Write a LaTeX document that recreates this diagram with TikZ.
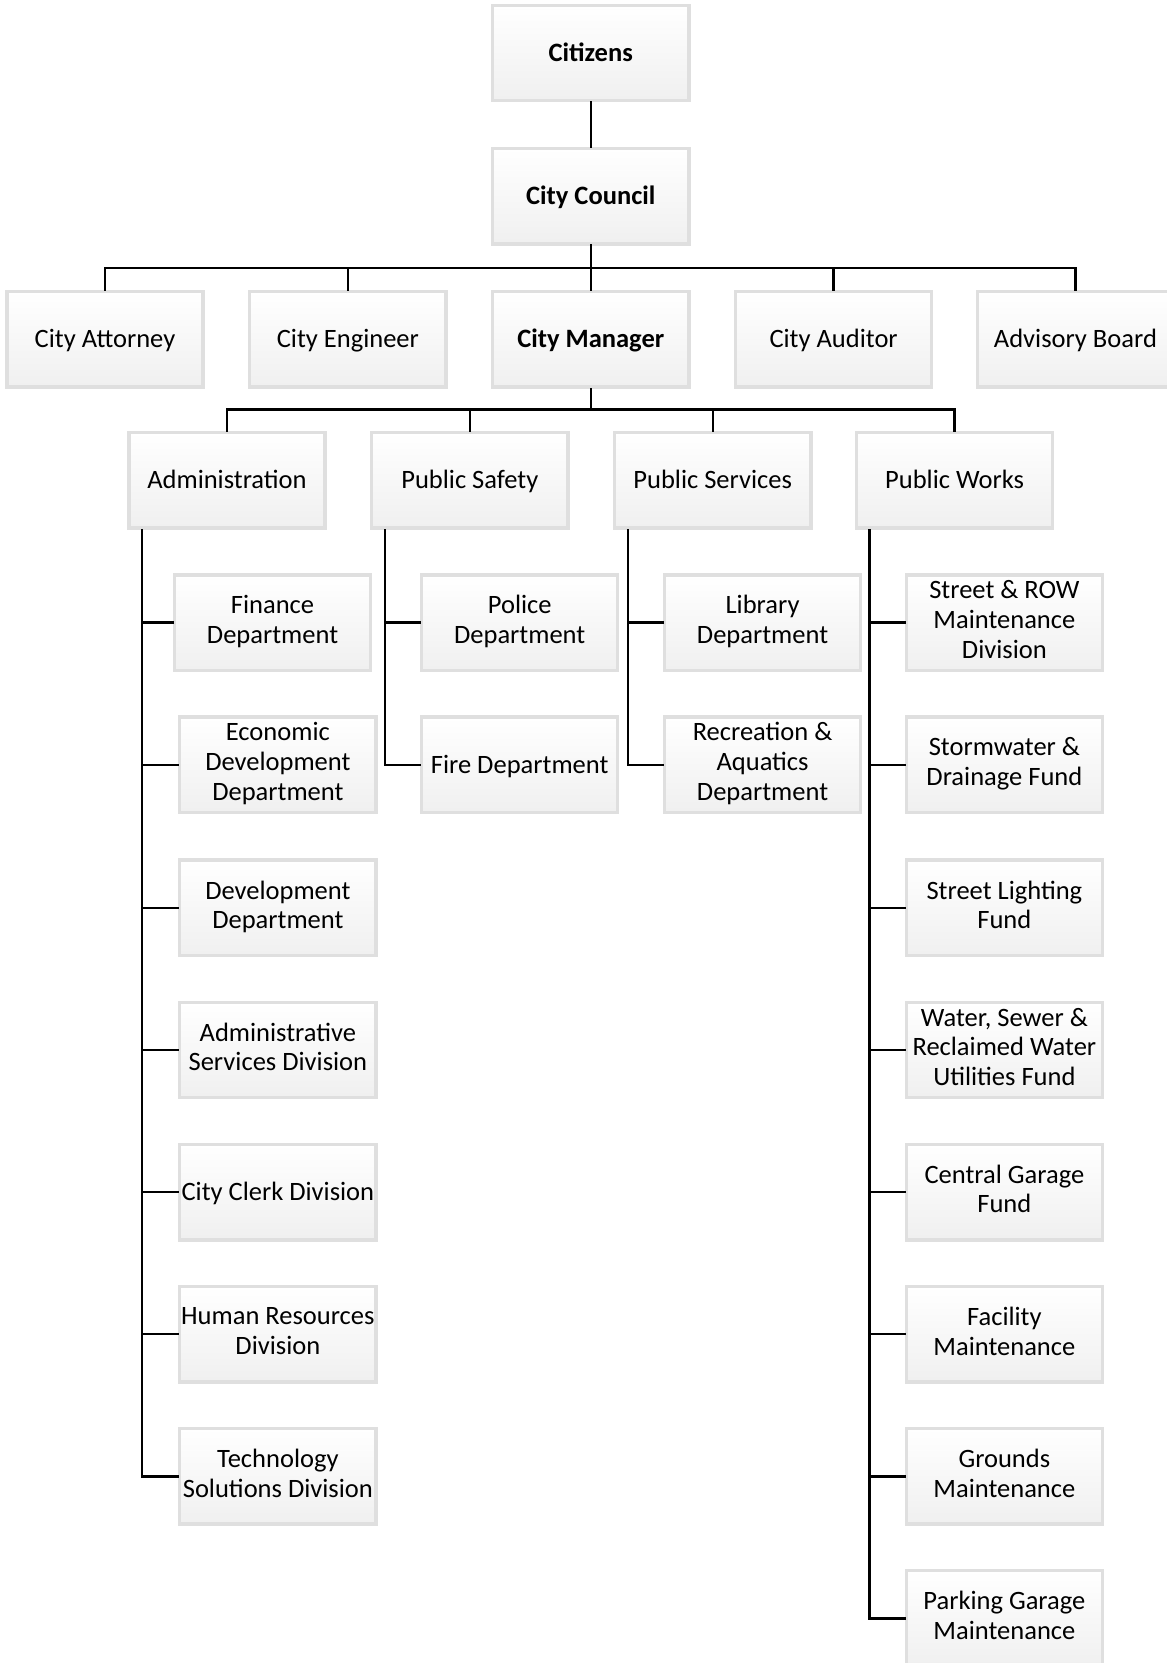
\documentclass[tikz,border=0pt]{standalone}
\usepackage{fontspec}
\setmainfont{Carlito}
\newcommand\boxstrut{\rule[-3pt]{0pt}{14pt}}
\tikzset{
  box/.style={rectangle, draw=gray!25, line width=1.6pt, top color=white, bottom color=gray!12,
    minimum width=92.5pt, minimum height=45pt, inner sep=0pt, align=center,
    font=\fontsize{12.5}{14}\selectfont,
    execute at begin node=\boxstrut, execute at end node=\boxstrut},
  boldbox/.style={box, font=\fontsize{12.5}{14}\selectfont\bfseries},
  link/.style={line width=1.1pt, black}
}
\begin{document}
\begin{tikzpicture}[x=0.5pt, y=-0.5pt, line join=miter, line cap=rect]
\useasboundingbox (0,0) rectangle (1100,1568);
% top
\node[boldbox] (cit) at (557,50) {Citizens};
\node[boldbox] (cc) at (557,185) {City Council};
% second row
\node[box] (att) at (99,320) {City Attorney};
\node[box] (eng) at (328,320) {City Engineer};
\node[boldbox] (mgr) at (557,320) {City Manager};
\node[box] (aud) at (786,320) {City Auditor};
\node[box] (adv) at (1014,320) {Advisory Board};
% departments
\node[box] (adm) at (214,453) {Administration};
\node[box] (saf) at (443,453) {Public Safety};
\node[box] (ser) at (672,453) {Public Services};
\node[box] (wrk) at (900,453) {Public Works};
% administration
\node[box] (fin) at (257,587) {Finance\\Department};
\node[box] (eco) at (262,721) {Economic\\Development\\Department};
\node[box] (dev) at (262,856) {Development\\Department};
\node[box] (ads) at (262,990) {Administrative\\Services Division};
\node[box] (clk) at (262,1124) {City Clerk Division};
\node[box] (hr) at (262,1258) {Human Resources\\Division};
\node[box] (tec) at (262,1392) {Technology\\Solutions Division};
% public safety
\node[box] (pol) at (490,587) {Police\\Department};
\node[box] (fir) at (490,721) {Fire Department};
% public services
\node[box] (lib) at (719,587) {Library\\Department};
\node[box] (rec) at (719,721) {Recreation \&\\Aquatics\\Department};
% public works
\node[box] (row) at (947,587) {Street \& ROW\\Maintenance\\Division};
\node[box] (stw) at (947,721) {Stormwater \&\\Drainage Fund};
\node[box] (lgt) at (947,856) {Street Lighting\\Fund};
\node[box] (wat) at (947,990) {Water, Sewer \&\\Reclaimed Water\\Utilities Fund};
\node[box] (gar) at (947,1124) {Central Garage\\Fund};
\node[box] (fac) at (947,1258) {Facility\\Maintenance};
\node[box] (grd) at (947,1392) {Grounds\\Maintenance};
\node[box] (prk) at (947,1526) {Parking Garage\\Maintenance};
% connectors
\draw[link] (cit) -- (cc);
\coordinate (bus1) at (557,253);
\coordinate (bus2) at (557,386);
\draw[link] (cc) -- (bus1);
\foreach \n in {att,eng,mgr,aud,adv} \draw[link] (bus1) -| (\n.north);
\draw[link] (mgr) -- (bus2);
\foreach \n in {adm,saf,ser,wrk} \draw[link] (bus2) -| (\n.north);
\foreach \n in {fin,eco,dev,ads,clk,hr,tec} \draw[link] ([xshift=7pt]adm.south west) |- (\n.west);
\foreach \n in {pol,fir} \draw[link] ([xshift=7pt]saf.south west) |- (\n.west);
\foreach \n in {lib,rec} \draw[link] ([xshift=7pt]ser.south west) |- (\n.west);
\foreach \n in {row,stw,lgt,wat,gar,fac,grd,prk} \draw[link] ([xshift=7pt]wrk.south west) |- (\n.west);
\end{tikzpicture}
\end{document}
